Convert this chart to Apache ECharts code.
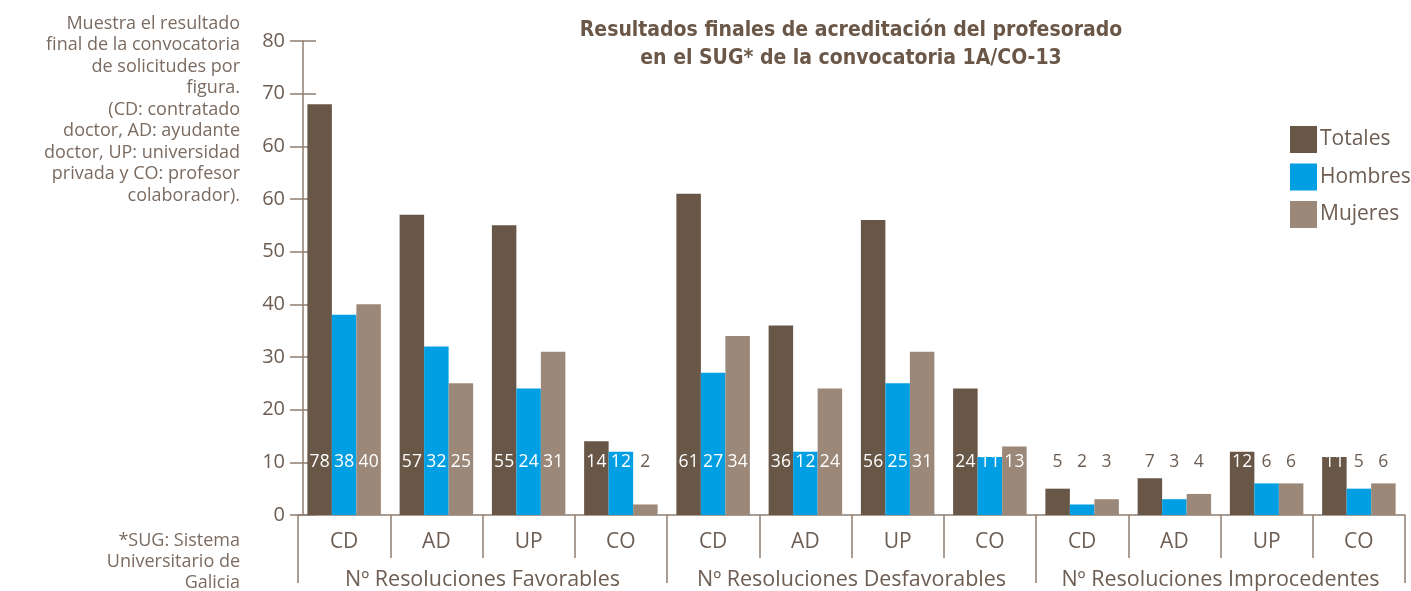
<!DOCTYPE html>
<html>
<head>
<meta charset="utf-8">
<script src="https://cdn.jsdelivr.net/npm/echarts@6/dist/echarts.min.js"></script>
<style>
html,body{margin:0;padding:0;background:#fff;}
#chart{width:1411px;height:591px;}
</style>
</head>
<body>
<div id="chart"></div>
<script>
// ---- data ----
const categories = ['CD','AD','UP','CO','CD','AD','UP','CO','CD','AD','UP','CO'];
const groups = ['Nº Resoluciones Favorables','Nº Resoluciones Desfavorables','Nº Resoluciones Improcedentes'];
const seriesNames = ['Totales','Hombres','Mujeres'];
const totales = [78,57,55,14,61,36,56,24,5,7,12,11];
const hombres = [38,32,24,12,27,12,25,11,2,3,6,5];
const mujeres = [40,25,31,2,34,24,31,13,3,4,6,6];
const yTickLabels = ['0','10','20','30','40','50','60','60','70','80'];
const titleText = 'Resultados finales de acreditación del profesorado\nen el SUG* de la convocatoria 1A/CO-13';
const noteText = 'Muestra el resultado\nfinal de la convocatoria\nde solicitudes por\nfigura.\n(CD: contratado\ndoctor, AD: ayudante\ndoctor, UP: universidad\nprivada y CO: profesor\ncolaborador).';
const footText = '*SUG: Sistema\nUniversitario de\nGalicia';

// ---- style ----
const FONT = '"Open Sans", sans-serif';
const TITLE_FONT = '"DejaVu Sans Condensed", "DejaVu Sans", sans-serif';
const colors = ['#685646','#009fe3','#9b8878'];
const textCol = '#6d5d52';
const axisCol = '#8f7e72';
const BAR_W = 24.5;
const LABEL_LEVEL = 10;

const allSeries = [totales, hombres, mujeres];

const chart = echarts.init(document.getElementById('chart'), null, {renderer:'canvas'});

const labelData = [];
allSeries.forEach((arr, s) => arr.forEach((v, i) => labelData.push([i, v, s])));

const option = {
  animation: false,
  textStyle: {fontFamily: FONT},
  title: {
    text: titleText,
    left: 846, top: 12, textAlign: 'center',
    textStyle: {fontFamily: TITLE_FONT, fontWeight: 'bold', fontSize: 21, color: '#6b5747', lineHeight: 28}
  },
  legend: {
    data: seriesNames,
    orient: 'vertical',
    left: 1285, top: 121,
    itemWidth: 27, itemHeight: 27, itemGap: 10.5,
    icon: 'rect',
    textStyle: {fontFamily: FONT, fontSize: 21, color: textCol, padding: [0,0,0,-2]}
  },
  graphic: [
    {type:'text', right: 1411-240, top: 13,
     style: {text: noteText, textAlign: 'right', font: '18px ' + FONT, fill: '#7b6b60', lineHeight: 21.5}},
    {type:'text', right: 1411-240, top: 530,
     style: {text: footText, textAlign: 'right', font: '18px ' + FONT, fill: '#7b6b60', lineHeight: 21}}
  ],
  grid: {left: 298, right: 6, top: 41, bottom: 74, containLabel: false},
  xAxis: [
    {
      type: 'category', data: categories, position: 'bottom',
      axisLine: {show: true, lineStyle: {color: axisCol, width: 1.5}},
      axisTick: {show: true, length: 43, interval: 0, lineStyle: {color: axisCol, width: 1.5}},
      axisLabel: {interval: 0, margin: 17, fontSize: 21, color: textCol, fontFamily: FONT}
    },
    {
      type: 'category', data: groups, position: 'bottom',
      axisLine: {show: false},
      axisTick: {show: true, length: 68, interval: 0, lineStyle: {color: axisCol, width: 1.5}},
      axisLabel: {interval: 0, margin: 54, fontSize: 21.5, color: textCol, fontFamily: FONT}
    }
  ],
  yAxis: [
    {
      type: 'value', min: 0, max: 90, interval: 10, offset: -5,
      axisLine: {show: true, lineStyle: {color: axisCol, width: 1.5}},
      axisTick: {show: true, length: 13, lineStyle: {color: axisCol, width: 1.5}},
      splitLine: {show: false},
      axisLabel: {margin: 18, fontSize: 20, color: textCol, fontFamily: FONT,
        formatter: v => yTickLabels[Math.round(v / 10)]}
    },
    {
      type: 'value', min: 0, max: 90, interval: 10, offset: -5, position: 'left',
      axisLine: {show: false},
      axisTick: {show: true, inside: true, length: 13, lineStyle: {color: axisCol, width: 1.5}},
      splitLine: {show: false},
      axisLabel: {show: false}
    }
  ],
  series: [
    ...seriesNames.map((name, s) => ({
      name, type: 'bar', xAxisIndex: 0, yAxisIndex: 0,
      data: allSeries[s], barWidth: BAR_W, barGap: '0%',
      itemStyle: {color: colors[s]}, z: 3
    })),
    {
      type: 'custom', name: 'labels', xAxisIndex: 0, yAxisIndex: 0, z: 5,
      data: labelData,
      renderItem: function (params, api) {
        const i = api.value(0), v = api.value(1), s = api.value(2);
        const c = api.coord([i, LABEL_LEVEL]);
        const x = c[0] + (s - 1) * BAR_W;
        const inside = v >= 11;
        return {
          type: 'text',
          x: x, y: c[1],
          style: {
            text: String(v), textAlign: 'center', textVerticalAlign: 'middle',
            font: '17.5px ' + FONT, fill: inside ? '#ffffff' : textCol
          }
        };
      }
    }
  ]
};
chart.setOption(option);
</script>
</body>
</html>
